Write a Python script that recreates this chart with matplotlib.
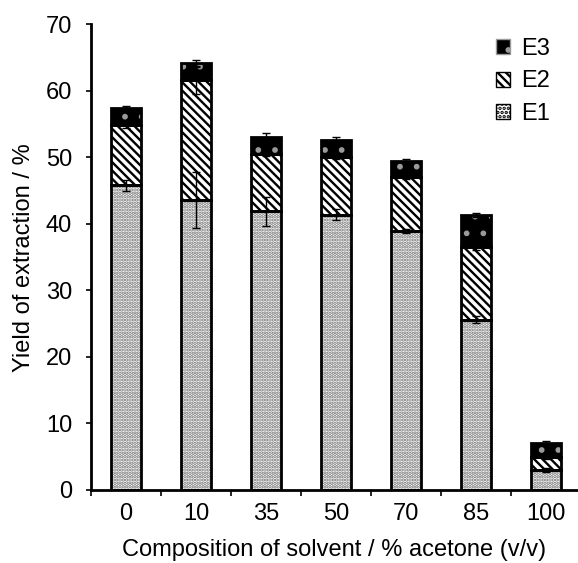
import numpy as np
import matplotlib
matplotlib.use("Agg")
import matplotlib.pyplot as plt
import matplotlib.patches as mpatches

plt.rcParams['font.family'] = ['Liberation Sans', 'DejaVu Sans']
plt.rcParams['hatch.linewidth'] = 1.7

# data
solvent = ['0', '10', '35', '50', '70', '85', '100']
e1 = [45.8, 43.6, 41.9, 41.4, 39.0, 25.6, 3.0]
e2 = [9.0, 18.0, 8.6, 8.6, 8.1, 11.0, 2.0]
e3 = [2.6, 2.6, 2.6, 2.6, 2.4, 4.8, 2.0]
e1_err = [0.8, 4.2, 2.2, 0.8, 0.3, 0.5, 0.3]
e2_err = [0.4, 2.0, 0.3, 0.3, 0.3, 0.5, 0.3]
e3_err = [0.3, 0.4, 0.5, 0.4, 0.3, 0.3, 0.3]

x = np.arange(len(solvent))
w = 0.43
b2 = np.array(e1)
b3 = b2 + np.array(e2)
tot = b3 + np.array(e3)

fig = plt.figure(figsize=(5.78, 5.63), dpi=100)
ax = fig.add_axes([0.1574, 0.1297, 0.8417, 0.827])

# pattern fills (hatch colour comes from edgecolor, outline drawn separately)
ax.bar(x, e1, w, color='white', edgecolor='#707070', hatch='.....', linewidth=0, zorder=2)
ax.bar(x, e2, w, bottom=b2, color='white', edgecolor='black', hatch='\\\\\\\\', linewidth=0, zorder=2)
ax.bar(x, e3, w, bottom=b3, color='black', edgecolor='#9a9a9a', hatch='.', linewidth=0, zorder=2)
for vals, bot in [(e1, None), (e2, b2), (e3, b3)]:
    ax.bar(x, vals, w, bottom=bot, fill=False, edgecolor='black', linewidth=2, zorder=3)

# error bars
for tops, err in [(b2, e1_err), (b3, e2_err), (tot, e3_err)]:
    ax.errorbar(x, tops, yerr=err, fmt='none', ecolor='black', elinewidth=1,
                capsize=3, capthick=1, zorder=4)

ax.set_xlim(-0.5, 6.45)
ax.set_ylim(0, 70)
ax.set_yticks(range(0, 71, 10))
ax.set_xticks(x)
ax.set_xticklabels(solvent)
ax.set_xticks(np.arange(-0.5, 6.5, 1), minor=True)
ax.tick_params(axis='x', which='major', length=0, pad=9.5, labelsize=17)
ax.tick_params(axis='x', which='minor', length=4, width=1.2, direction='out')
ax.tick_params(axis='y', length=3.6, width=1.2, direction='out', labelsize=17, pad=10)
for s in ['top', 'right']:
    ax.spines[s].set_visible(False)
for s in ['left', 'bottom']:
    ax.spines[s].set_linewidth(2)

ax.set_xlabel('Composition of solvent / % acetone (v/v)', fontsize=17, labelpad=10)
ax.set_ylabel('Yield of extraction / %', fontsize=17, labelpad=8)

handles = [mpatches.Patch(facecolor='black', edgecolor='#9a9a9a', hatch='.', label='E3'),
           mpatches.Patch(facecolor='white', edgecolor='black', hatch='\\\\\\\\', label='E2'),
           mpatches.Patch(facecolor='white', edgecolor='black', hatch='....', label='E1')]
ax.legend(handles=handles, loc='upper right', bbox_to_anchor=(0.988, 1.017), frameon=False,
          fontsize=17, handlelength=0.6, handleheight=0.6, handletextpad=0.5,
          labelspacing=0.45)

fig.savefig('out.png', dpi=100)
